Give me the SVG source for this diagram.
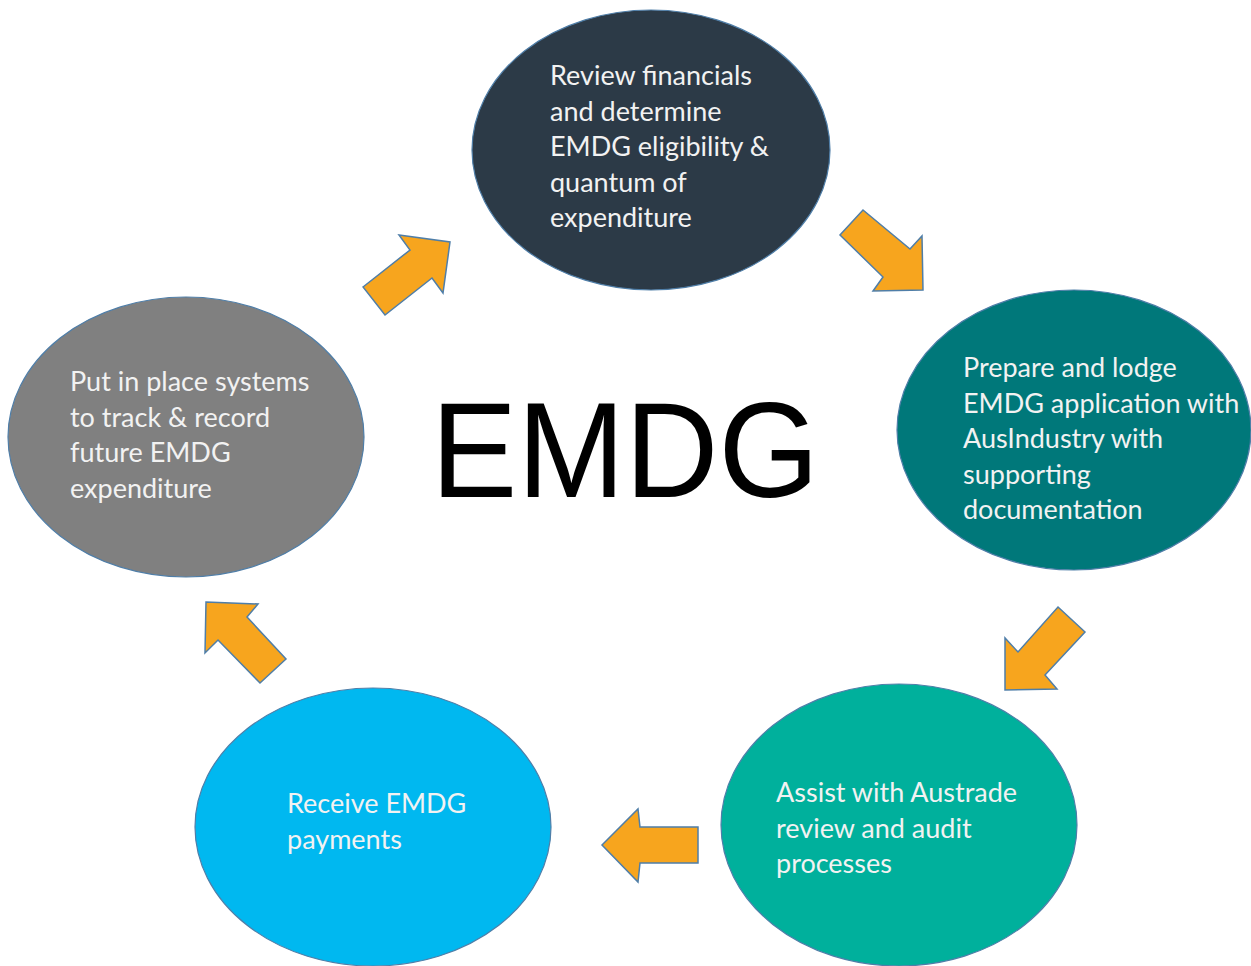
<svg xmlns="http://www.w3.org/2000/svg" width="1251" height="966" viewBox="0 0 1251 966">
<style>
.node ellipse{stroke:#4f7ea8;stroke-width:1.2}
.lbl{font-family:Lato,"Open Sans","Liberation Sans",sans-serif;font-size:27px;fill:#f2f2f2}
.arrow{fill:#f7a51e;stroke:#4f7ea8;stroke-width:1.5;stroke-linejoin:miter}
.title{font-family:"Liberation Sans",Arial,sans-serif;font-size:135px;fill:#000}
</style>
<rect width="1251" height="966" fill="#fff"/>
<g id="n1" class="node">
<ellipse cx="651" cy="150" rx="179" ry="140" fill="#2c3a47"/>
<text class="lbl"><tspan x="550" y="85">Review financials</tspan><tspan x="550" y="120.5">and determine</tspan><tspan x="550" y="156">EMDG eligibility &amp;</tspan><tspan x="550" y="191.5">quantum of</tspan><tspan x="550" y="227">expenditure</tspan></text>
</g>
<g id="n2" class="node">
<ellipse cx="1074" cy="430" rx="177" ry="140" fill="#00787a"/>
<text class="lbl"><tspan x="963" y="377">Prepare and lodge</tspan><tspan x="963" y="412.5">EMDG application with</tspan><tspan x="963" y="448">AusIndustry with</tspan><tspan x="963" y="483.5">supporting</tspan><tspan x="963" y="519">documentation</tspan></text>
</g>
<g id="n3" class="node">
<ellipse cx="899" cy="825" rx="178" ry="141" fill="#00b09c"/>
<text class="lbl"><tspan x="776" y="802">Assist with Austrade</tspan><tspan x="776" y="837.5">review and audit</tspan><tspan x="776" y="873">processes</tspan></text>
</g>
<g id="n4" class="node">
<ellipse cx="373" cy="827" rx="178" ry="139" fill="#00b8f0"/>
<text class="lbl"><tspan x="287" y="813">Receive EMDG</tspan><tspan x="287" y="849">payments</tspan></text>
</g>
<g id="n5" class="node">
<ellipse cx="186" cy="437" rx="178" ry="140" fill="#808080"/>
<text class="lbl"><tspan x="70" y="391">Put in place systems</tspan><tspan x="70" y="426.5">to track &amp; record</tspan><tspan x="70" y="462">future EMDG</tspan><tspan x="70" y="497.5">expenditure</tspan></text>
</g>
<g id="center">
<text class="title" x="431" y="497" textLength="388" lengthAdjust="spacingAndGlyphs">EMDG</text>
</g>
<g id="connectors">
<polygon class="arrow" points="363,287 410,250 399,235 450,242 443,293 432,278 385,315"/>
<polygon class="arrow" points="863,210 910,249 922,236 923,290 873,291 883,277 840,235"/>
<polygon class="arrow" points="1058,607 1085,632 1045,675 1057,689 1005,690 1005,638 1018,652"/>
<polygon class="arrow" points="602,845 638,809 640,827 698,827 698,863 640,863 638,882"/>
<polygon class="arrow" points="206,602 258,604 247,617 286,659 260,683 218,640 205,653"/>
</g>
</svg>
